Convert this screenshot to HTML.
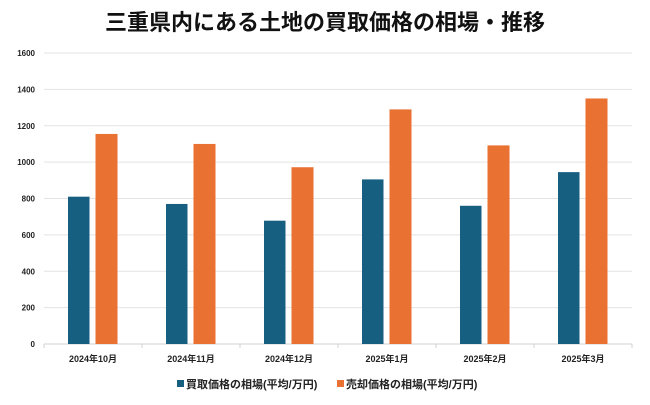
<!DOCTYPE html>
<html><head><meta charset="utf-8"><style>
body{margin:0;background:#fff;font-family:"Liberation Sans","Noto Sans CJK JP",sans-serif}
</style></head><body>
<svg width="650" height="400" id="c" xmlns="http://www.w3.org/2000/svg">
<text x="325" y="30" text-anchor="middle" font-size="22" font-weight="bold" fill="#111">三重県内にある土地の買取価格の相場・推移</text>
</svg>
<script>
const categories=["2024年10月","2024年11月","2024年12月","2025年1月","2025年2月","2025年3月"];
const buyValues=[810,770,678,905,760,945];
const sellValues=[1155,1100,972,1290,1092,1350];
const yTicks=[0,200,400,600,800,1000,1200,1400,1600];
const seriesNames=["買取価格の相場(平均/万円)","売却価格の相場(平均/万円)"];
const svg=document.getElementById('c');const NS="http://www.w3.org/2000/svg";
const x0=44,x1=632,y0=344,yTop=53,maxV=1600;
const yS=v=>y0-(v/maxV)*(y0-yTop);
const cw=(x1-x0)/categories.length;
function mk(t,a,txt){const e=document.createElementNS(NS,t);for(const k in a)e.setAttribute(k,a[k]);if(txt!==undefined)e.textContent=txt;svg.appendChild(e);return e;}
yTicks.forEach(v=>{
const g=mk('line',{x1:x0,x2:x1,y1:yS(v),y2:yS(v),stroke:v?'#e3e3e3':'#d0d0d0','stroke-width':1});


const t=mk('text',{x:35,y:yS(v)+3,'text-anchor':'end','font-size':8,'font-weight':'bold',fill:'#222'},v);


});
categories.forEach((c,i)=>{
const cx=x0+cw*(i+0.5);
const tk=mk('line',{x1:x0+cw*i,x2:x0+cw*i,y1:y0,y2:y0+4,stroke:'#d0d0d0'});


const b=mk('rect',{x:cx-25,y:yS(buyValues[i]),width:21.5,height:y0-yS(buyValues[i]),fill:'#175f81'});


const s=mk('rect',{x:cx+2.5,y:yS(sellValues[i]),width:22,height:y0-yS(sellValues[i]),fill:'#e97233'});


const t=mk('text',{x:cx,y:362,'text-anchor':'middle','font-size':9,'font-weight':'bold',fill:'#222'},c);


});
const end=mk('line',{x1:x1,x2:x1,y1:y0,y2:y0+4,stroke:'#d0d0d0'});


[[177,'#175f81'],[337,'#e97233']].forEach((p,i)=>{
const r=mk('rect',{x:p[0],y:380,width:7,height:7,fill:p[1]});


const t=mk('text',{x:p[0]+9,y:388,'font-size':11,'font-weight':'bold',fill:'#222'},seriesNames[i]);


});
</script>
</body></html>
